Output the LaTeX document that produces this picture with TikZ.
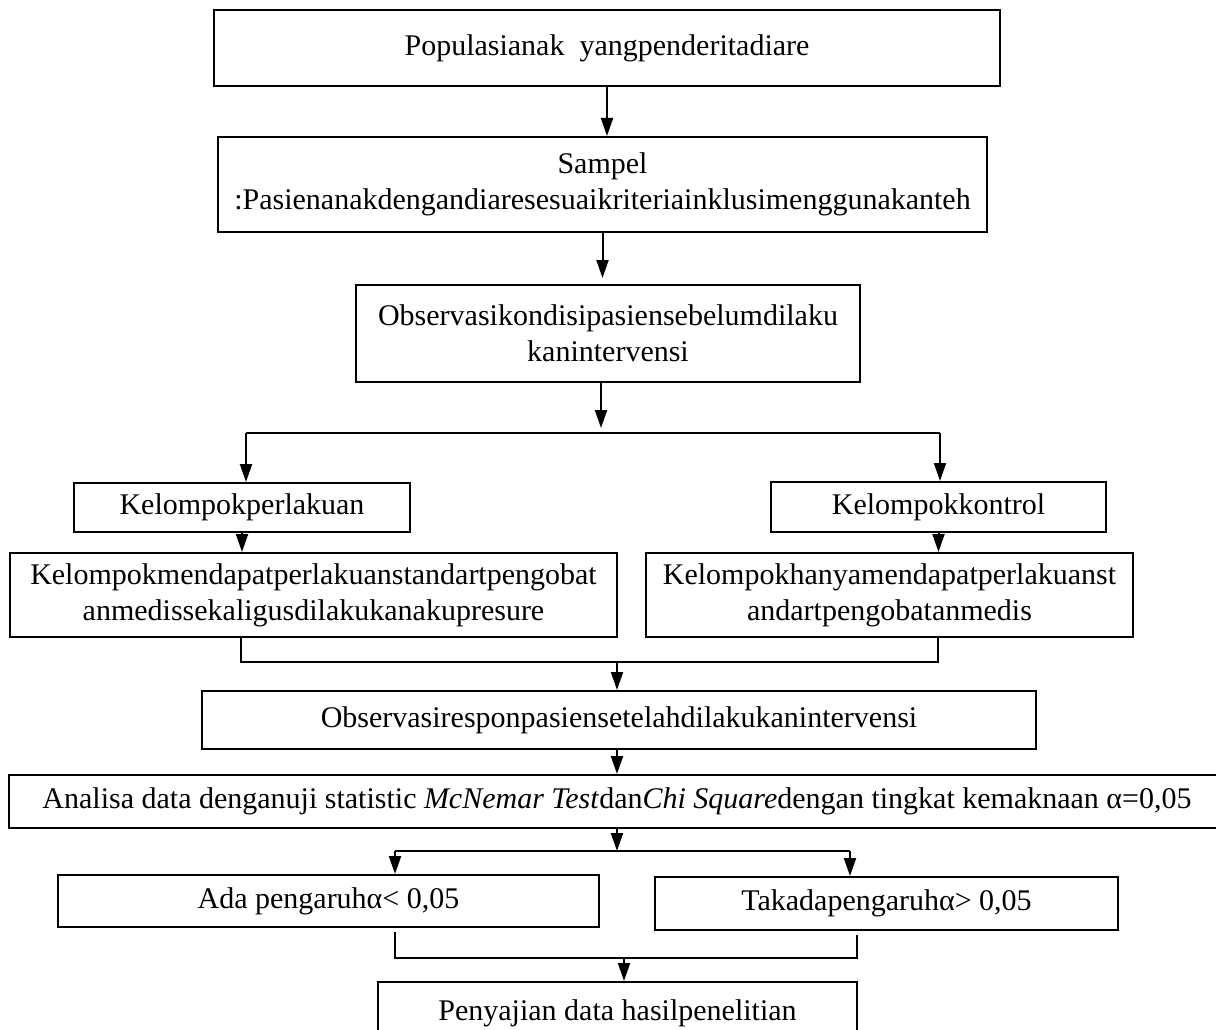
\documentclass[tikz,border=0pt]{standalone}
\usepackage{fontspec}
\setmainfont{Liberation Serif}
\usetikzlibrary{arrows.meta,calc}
\begin{document}
\begin{tikzpicture}[x=1pt,y=-1pt,
  box/.style={draw,line width=2pt,rectangle,inner sep=0pt,align=center,font=\fontsize{30}{36}\selectfont},
  arr/.style={line width=2pt,-{Triangle[length=18pt,width=12pt]}},
  ln/.style={line width=2pt}]
\clip (0,0) rectangle (1216,1030);
\fill[white] (0,0) rectangle (1216,1030);
% boxes
\node[box,minimum width=786pt,minimum height=76pt] (b1) at (607,48) {Populasianak\ \ yangpenderitadiare};
\node[box,minimum width=769pt,minimum height=95pt] (b2) at (602.5,184.5) {Sampel\\:Pasienanakdengandiaresesuaikriteriainklusimenggunakanteh};
\node[box,minimum width=504pt,minimum height=97pt] (b3) at (608,333.5) {Observasikondisipasiensebelumdilaku\\kanintervensi};
\node[box,minimum width=336pt,minimum height=49pt] (kp) at (242,507.5) {Kelompokperlakuan};
\node[box,minimum width=335pt,minimum height=50pt] (kk) at (938.5,507) {Kelompokkontrol};
\node[box,minimum width=607pt,minimum height=84pt] (km) at (313.5,595) {Kelompokmendapatperlakuanstandartpengobat\\anmedissekaligusdilakukanakupresure};
\node[box,minimum width=487pt,minimum height=84pt] (kh) at (889.5,595) {Kelompokhanyamendapatperlakuanst\\andartpengobatanmedis};
\node[box,minimum width=834pt,minimum height=58pt] (ob) at (619,720) {Observasiresponpasiensetelahdilakukanintervensi};
\node[box,minimum width=1216pt,minimum height=53pt] (an) at (617,801.5) {Analisa data denganuji statistic \textit{McNemar Test}dan\textit{Chi Square}dengan tingkat kemaknaan α=0,05};
\node[box,minimum width=541pt,minimum height=52pt] (ad) at (328.5,901) {Ada pengaruhα< 0,05};
\node[box,minimum width=463pt,minimum height=53pt] (tk) at (886.5,903.5) {Takadapengaruhα> 0,05};
\node[box,minimum width=479pt,minimum height=63pt] (pe) at (617.5,1013.5) {Penyajian data hasilpenelitian};
% junction coordinates
\coordinate (s1) at (601,433);
\coordinate (sl) at (246,433);
\coordinate (sr) at (940,433);
\coordinate (m1) at (241,662);
\coordinate (m2) at (938,662);
\coordinate (m3) at (617,662);
\coordinate (t1) at (617,851);
\coordinate (tl) at (395,851);
\coordinate (tr) at (850,851);
\coordinate (u1) at (395,932);
\coordinate (u2) at (857,935);
\coordinate (v1) at (395,958);
\coordinate (v2) at (857,958);
\coordinate (v3) at (624,958);
% connectors
\draw[arr] (b1.south) -- (b1.south |- b2.north);
\draw[arr,shorten >=6pt] (b2.south) -- (b2.south |- b3.north);
\draw[arr,shorten >=5pt] (b3.south -| s1) -- (s1);
\draw[ln] (sl) -- (sr);
\draw[arr] (sl) -- (sl |- kp.north);
\draw[arr] (sr) -- (sr |- kk.north);
\draw[arr] (kp.south) -- (kp.south |- km.north);
\draw[arr] (kk.south) -- (kk.south |- kh.north);
\draw[ln] (km.south -| m1) -- (m1) -- (m2) -- (kh.south -| m2);
\draw[arr] (m3) -- (m3 |- ob.north);
\draw[arr] (ob.south -| m3) -- (m3 |- an.north);
\draw[arr] (an.south -| t1) -- (t1);
\draw[ln] (tl) -- (tr);
\draw[arr] (tl) -- (tl |- ad.north);
\draw[arr] (tr) -- (tr |- tk.north);
\draw[ln] (u1) -- (v1) -- (v2) -- (u2);
\draw[arr] (v3) -- (v3 |- pe.north);
\end{tikzpicture}
\end{document}
